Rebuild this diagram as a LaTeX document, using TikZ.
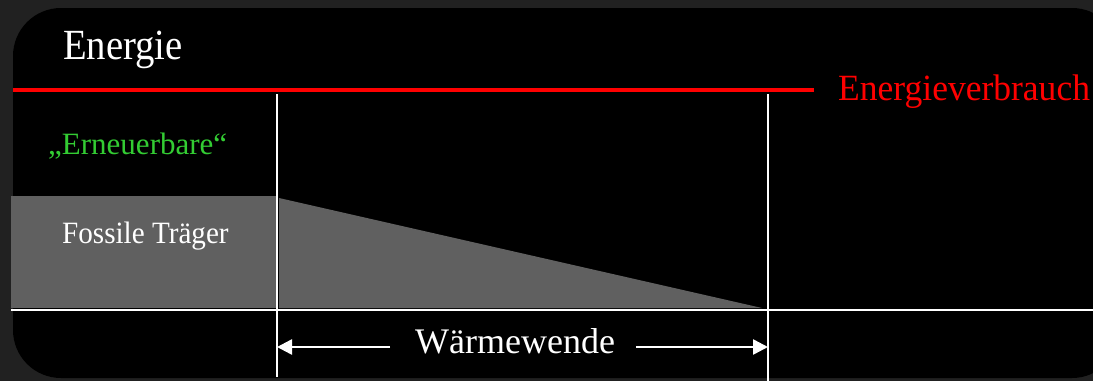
\documentclass[tikz,border=0pt]{standalone}
\usepackage{fontspec}
\setmainfont{Liberation Serif}
\usepackage{xcolor}
\usetikzlibrary{arrows.meta, positioning, calc}

\definecolor{bgdark}{HTML}{212121}
\definecolor{fossilgrey}{HTML}{606060}
\definecolor{renewgreen}{HTML}{33CC33}

\begin{document}
\begin{tikzpicture}[x=1pt, y=-1pt,
    txt/.style={inner sep=0pt, anchor=base west, text=white},
    guide/.style={draw=white, line width=2pt},
    dimarrow/.style={draw=white, line width=2.5pt, -{Triangle[length=15pt, width=15pt]}}]
    % Background
    \fill[bgdark] (0,0) rectangle (1093,381);
    \useasboundingbox (0,0) rectangle (1093,381);
    \fill[black, rounded corners=48pt] (13,8) rectangle (1120,378);

    % Fossil share: block and falling wedge
    \fill[fossilgrey] (11,196) rectangle (276,308);
    \fill[fossilgrey] (279,198) -- (279,308) -- (762,308) -- cycle;

    % Time axis and the two marks
    \coordinate (axl) at (11,309.5);
    \coordinate (axr) at (1093,309.5);
    \draw[guide] (axl) -- (axr);
    \coordinate (startTop) at (277,94);
    \coordinate (startBot) at (277,377);
    \coordinate (endTop) at (768,94);
    \coordinate (endBot) at (768,381);
    \draw[guide] (startTop) -- (startBot);
    \draw[guide] (endTop) -- (endBot);

    % Consumption line
    \node[txt, text=red, font=\fontsize{37}{42}\selectfont, xscale=0.96] (verbrauch) at (838,100) {Energieverbrauch};
    \coordinate (consL) at (13,90);
    \draw[red, line width=4pt] (consL) -- (consL -| 814,0);

    % Labels
    \node[txt, font=\fontsize{43}{48}\selectfont, xscale=0.9] (energie) at (63,59) {Energie};
    \node[txt, text=renewgreen, font=\fontsize{31}{35}\selectfont] (erneuerbar) at (48,154) {„Erneuerbare“};
    \node[txt, font=\fontsize{31}{35}\selectfont, xscale=0.94] (fossil) at (62,243) {Fossile Träger};

    % Span of the Waermewende
    \node[txt, font=\fontsize{36}{40}\selectfont] (wende) at (415,353) {Wärmewende};
    \coordinate (arrowL) at ($(wende.base west)+(-25,-6)$);
    \coordinate (arrowR) at ($(wende.base east)+(21,-6)$);
    \draw[dimarrow] (arrowL) -- (arrowL -| startTop);
    \draw[dimarrow] (arrowR) -- (arrowR -| endTop);
\end{tikzpicture}
\end{document}
